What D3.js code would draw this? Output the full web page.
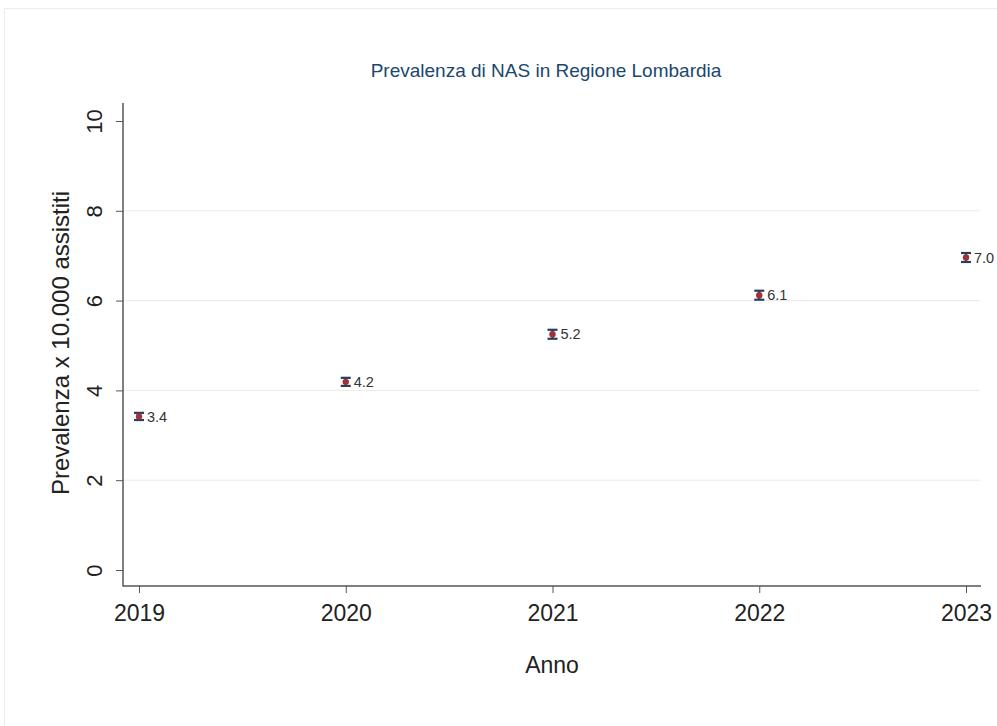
<!DOCTYPE html>
<html>
<head>
<meta charset="utf-8">
<script src="https://cdn.jsdelivr.net/npm/d3@7"></script>
<style>
  body { margin: 0; background: #fff; }
  text { font-family: Arial, "Liberation Sans", sans-serif; }
</style>
</head>
<body>
<div id="chart"></div>
<script>
// data
const years = [2019, 2020, 2021, 2022, 2023];
const prevalence = [3.42, 4.19, 5.25, 6.12, 6.96];
const lower = [3.34, 4.10, 5.15, 6.02, 6.86];
const upper = [3.50, 4.28, 5.35, 6.22, 7.06];
const pointLabels = ["3.4", "4.2", "5.2", "6.1", "7.0"];
const yTicks = [0, 2, 4, 6, 8, 10];
const gridTicks = [2, 4, 6, 8];

const width = 997, height = 726;
const svg = d3.select("#chart").append("svg")
    .attr("width", width)
    .attr("height", height);

// faint outer frame
svg.append("rect")
    .attr("x", 4.5).attr("y", 8.5)
    .attr("width", 1000).attr("height", 730)
    .attr("fill", "none")
    .attr("stroke", "#ececec");

const x = d3.scaleLinear().domain([2019, 2023]).range([139, 966]);
const y = d3.scaleLinear().domain([0, 10]).range([570, 121]);

const axisLeftX = 123, axisBottomY = 586;

// grid
svg.append("g").selectAll("line")
    .data(gridTicks)
    .join("line")
    .attr("x1", axisLeftX).attr("x2", 980)
    .attr("y1", d => y(d)).attr("y2", d => y(d))
    .attr("stroke", "#eaeaea")
    .attr("stroke-width", 1);

// y axis
const yAxis = d3.axisLeft(y).tickValues(yTicks).tickSize(7).tickFormat(d3.format("d"));
const gy = svg.append("g")
    .attr("transform", `translate(${axisLeftX},0)`)
    .call(yAxis);
gy.select(".domain").remove();
gy.selectAll(".tick line").attr("stroke", "#555");
gy.selectAll(".tick text")
    .attr("transform", "rotate(-90)")
    .attr("x", 0).attr("y", -21)
    .attr("dy", 0)
    .style("text-anchor", "middle")
    .style("font-size", "22px")
    .attr("fill", "#222");
svg.append("line")
    .attr("x1", axisLeftX).attr("x2", axisLeftX)
    .attr("y1", 103).attr("y2", axisBottomY + 0.5)
    .attr("stroke", "#555").attr("stroke-width", 1.5);

// x axis
const xAxis = d3.axisBottom(x).tickValues(years).tickSize(7).tickPadding(12).tickFormat(d3.format("d"));
const gx = svg.append("g")
    .attr("transform", `translate(0,${axisBottomY})`)
    .call(xAxis);
gx.select(".domain").remove();
gx.selectAll(".tick line").attr("stroke", "#555");
gx.selectAll(".tick text")
    .style("font-size", "23px")
    .attr("fill", "#222");
svg.append("line")
    .attr("x1", axisLeftX).attr("x2", 981)
    .attr("y1", axisBottomY).attr("y2", axisBottomY)
    .attr("stroke", "#555").attr("stroke-width", 1.5);

// axis titles
svg.append("text")
    .attr("x", 552).attr("y", 673)
    .attr("text-anchor", "middle")
    .style("font-size", "23px")
    .attr("fill", "#222")
    .text("Anno");
svg.append("text")
    .attr("transform", "translate(69,343) rotate(-90)")
    .attr("text-anchor", "middle")
    .style("font-size", "24px")
    .attr("fill", "#222")
    .text("Prevalenza x 10.000 assistiti");

// title
svg.append("text")
    .attr("x", 546).attr("y", 77)
    .attr("text-anchor", "middle")
    .style("font-size", "19px")
    .attr("fill", "#1a476f")
    .text("Prevalenza di NAS in Regione Lombardia");

// error bars
const rows = years.map((yr, i) => ({ yr, v: prevalence[i], lo: lower[i], hi: upper[i], label: pointLabels[i] }));
const eb = svg.append("g").selectAll("g")
    .data(rows)
    .join("g")
    .attr("stroke", "#283f5a")
    .attr("stroke-width", 2.2);
eb.append("line")
    .attr("x1", d => x(d.yr)).attr("x2", d => x(d.yr))
    .attr("y1", d => y(d.lo)).attr("y2", d => y(d.hi));
eb.append("line")
    .attr("x1", d => x(d.yr) - 5).attr("x2", d => x(d.yr) + 5)
    .attr("y1", d => y(d.lo)).attr("y2", d => y(d.lo));
eb.append("line")
    .attr("x1", d => x(d.yr) - 5).attr("x2", d => x(d.yr) + 5)
    .attr("y1", d => y(d.hi)).attr("y2", d => y(d.hi));

// points
svg.append("g").selectAll("circle")
    .data(rows)
    .join("circle")
    .attr("cx", d => x(d.yr))
    .attr("cy", d => y(d.v))
    .attr("r", 3.2)
    .attr("fill", "#a0303a");

// point labels
svg.append("g").selectAll("text")
    .data(rows)
    .join("text")
    .attr("x", d => x(d.yr) + 8)
    .attr("y", d => y(d.v))
    .attr("dy", "0.36em")
    .style("font-size", "14.5px")
    .attr("fill", "#333")
    .text(d => d.label);
</script>
</body>
</html>
